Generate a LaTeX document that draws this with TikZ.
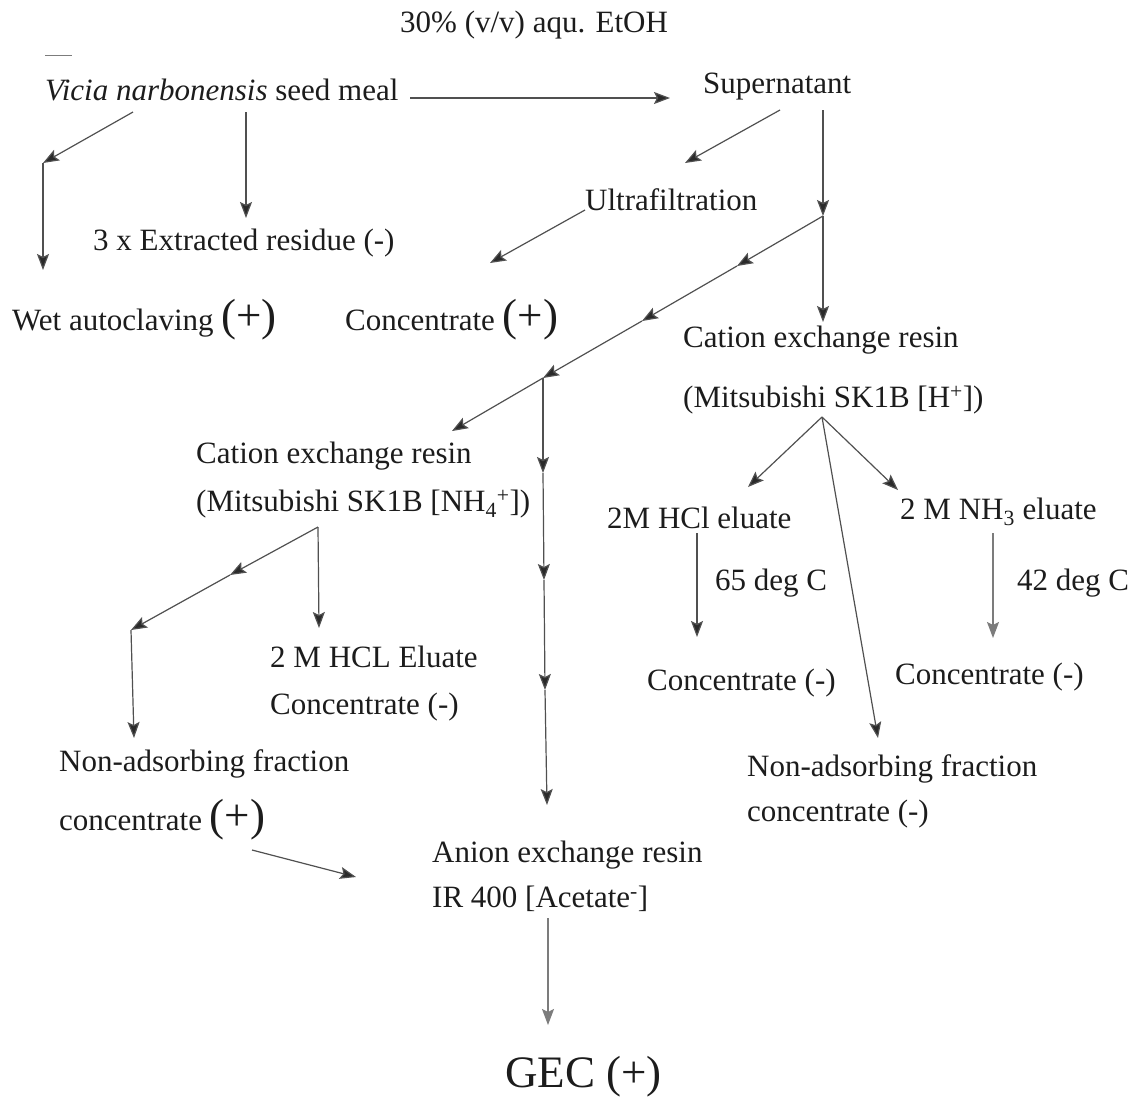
\documentclass[tikz,border=0pt]{standalone}
\usepackage{fontspec}
\setmainfont{Liberation Serif}
\usetikzlibrary{arrows.meta}
\definecolor{ink}{HTML}{1c1c1c}
\definecolor{wire}{HTML}{505050}
\definecolor{tipc}{HTML}{2a2a2a}
\definecolor{pale}{HTML}{7c7c7c}
\newcommand{\plusmark}{{\fontsize{45}{50}\selectfont(+)}}

\begin{document}
\begin{tikzpicture}[x=1pt,y=-1pt,
  lbl/.style={font=\fontsize{31}{36}\selectfont,text=ink,inner sep=0pt,anchor=west,align=left},
  arr/.style={draw=wire,line width=1.2pt,-{Stealth[length=16pt,width=12pt,inset=3pt,fill=tipc]}},
  parr/.style={draw=pale,line width=1.2pt,-{Stealth[length=16pt,width=12pt,inset=3pt,fill=pale]}}]
  \useasboundingbox (0,0) rectangle (1144,1096);

  \node[lbl] (s0) at (400,25) {30\% (v/v) aqu. EtOH};
  \draw[pale,line width=1pt] (45,55) -- (72,55);

  \node[lbl] (s1a) at (45,90) {\textit{Vicia narbonensis} seed meal};
  \node[lbl] (s1b) at (703,87) {Supernatant};
  \coordinate (h1) at (410,98);
  \coordinate (h2) at (670,98);
  \draw[arr] (h1) to (h2);

  \node[lbl] (s2a) at (585,200) {Ultrafiltration};
  \node[lbl] (s2b) at (93,243) {3 x Extracted residue (-)};
  \coordinate (c1) at (133,112);
  \coordinate (c2) at (43,163);
  \coordinate (c3) at (43,270);
  \coordinate (c4) at (246,112);
  \coordinate (c5) at (246,218);
  \draw[arr] (c1) to (c2);
  \draw[arr] (c2) to (c3);
  \draw[arr] (c4) to (c5);

  \coordinate (u1) at (780,110);
  \coordinate (u2) at (685,163);
  \coordinate (u3) at (585,210);
  \coordinate (u4) at (490,263);
  \draw[arr] (u1) to (u2);
  \draw[arr] (u3) to (u4);

  \node[lbl] (s3a) at (12,320) {Wet autoclaving \plusmark};
  \node[lbl] (s3b) at (345,320) {Concentrate \plusmark};

  % main line from the supernatant
  \coordinate (r0) at (823,110);
  \coordinate (r1) at (823,216);
  \coordinate (r2) at (823,322);
  \draw[arr] (r0) to (r1);
  \draw[arr] (r1) to (r2);
  \coordinate (d1) at (737,266);
  \coordinate (d2) at (642,321);
  \coordinate (d3) at (543,378);
  \coordinate (d4) at (452,431);
  \draw[arr] (r1) to (d1);
  \draw[arr] (d1) to (d2);
  \draw[arr] (d2) to (d3);
  \draw[arr] (d3) to (d4);
  \coordinate (v1) at (543,473);
  \coordinate (v2) at (544,580);
  \coordinate (v3) at (545,690);
  \coordinate (v4) at (547,805);
  \draw[arr] (d3) to (v1);
  \draw[arr] (v1) to (v2);
  \draw[arr] (v2) to (v3);
  \draw[arr] (v3) to (v4);

  \node[lbl] (s4a) at (683,370) {Cation exchange resin\\[24pt](Mitsubishi SK1B [H\textsuperscript{+}])};
  \node[lbl] (s5a) at (196,480) {Cation exchange resin\\[12pt](Mitsubishi SK1B [NH\textsubscript{4}\textsuperscript{+}])};

  % H+ resin
  \coordinate (f0) at (822,417);
  \coordinate (f1) at (748,487);
  \coordinate (f2) at (898,490);
  \coordinate (f3) at (878,738);
  \draw[arr] (f0) to (f1);
  \draw[arr] (f0) to (f2);
  \draw[arr] (f0) to (f3);
  \node[lbl] (s6a) at (607,518) {2M HCl eluate};
  \node[lbl] (s6b) at (900,512) {2 M NH\textsubscript{3} eluate};
  \node[lbl] (t65) at (715,583) {65 deg C};
  \node[lbl] (t42) at (1017,583) {42 deg C};
  \coordinate (e1) at (697,533);
  \coordinate (e2) at (697,637);
  \coordinate (e3) at (993,533);
  \coordinate (e4) at (993,638);
  \draw[arr] (e1) to (e2);
  \draw[parr] (e3) to (e4);
  \node[lbl] (s7a) at (647,683) {Concentrate (-)};
  \node[lbl] (s7b) at (895,677) {Concentrate (-)};
  \node[lbl] (s8b) at (747,791) {Non-adsorbing fraction\\[9pt]concentrate (-)};

  % NH4+ resin
  \coordinate (g0) at (318,527);
  \coordinate (g1) at (230,575);
  \coordinate (g2) at (131,630);
  \coordinate (g3) at (134,738);
  \coordinate (g4) at (319,628);
  \draw[arr] (g0) to (g1);
  \draw[arr] (g1) to (g2);
  \draw[arr] (g2) to (g3);
  \draw[arr] (g0) to (g4);
  \node[lbl] (s7c) at (270,684) {2 M HCL Eluate\\[11pt]Concentrate (-)};
  \node[lbl] (s8a) at (59,795) {Non-adsorbing fraction\\[20pt]concentrate \plusmark};

  \node[lbl] (s9) at (432,876) {Anion exchange resin\\[9pt]IR 400 [Acetate\textsuperscript{-}]};
  \coordinate (a1) at (252,850);
  \coordinate (a2) at (356,877);
  \draw[arr] (a1) to (a2);
  \coordinate (a3) at (548,918);
  \coordinate (a4) at (548,1025);
  \draw[parr] (a3) to (a4);

  \node[font=\fontsize{45}{50}\selectfont,text=ink,inner sep=0pt,anchor=west] (s10) at (505,1077) {GEC (+)};
\end{tikzpicture}
\end{document}
